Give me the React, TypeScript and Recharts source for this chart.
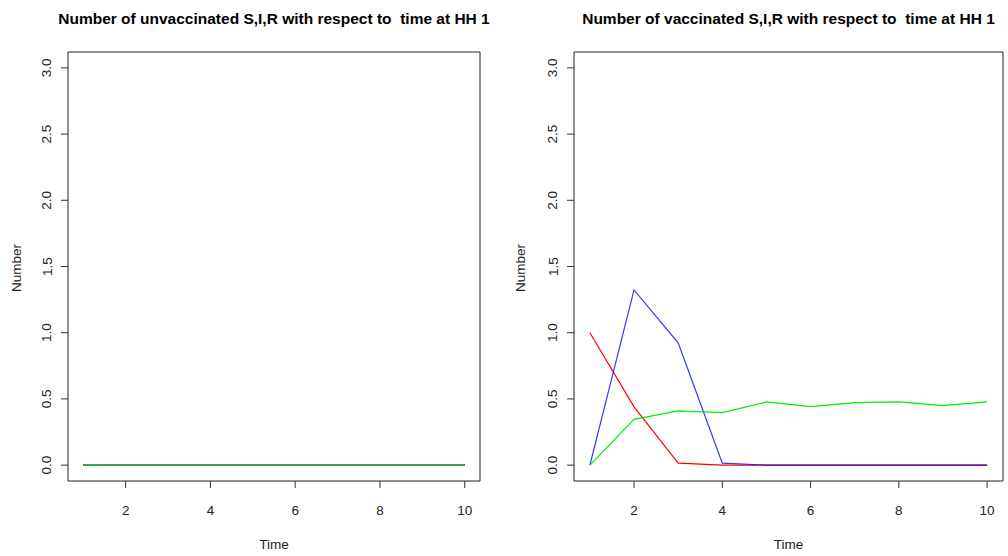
import React from "react";
import { LineChart, Line, XAxis, YAxis, ReferenceArea } from "recharts";

const time = [1, 2, 3, 4, 5, 6, 7, 8, 9, 10];
const unvacS = [0, 0, 0, 0, 0, 0, 0, 0, 0, 0];
const unvacI = [0, 0, 0, 0, 0, 0, 0, 0, 0, 0];
const unvacR = [0, 0, 0, 0, 0, 0, 0, 0, 0, 0];
const vacS = [1.0, 0.44, 0.015, 0, 0, 0, 0, 0, 0, 0];
const vacI = [0, 1.323, 0.924, 0.015, 0, 0, 0, 0, 0, 0];
const vacR = [0, 0.346, 0.41, 0.396, 0.477, 0.442, 0.472, 0.477, 0.449, 0.477];
const xTicks = [2, 4, 6, 8, 10];
const yTicks = [0, 0.5, 1, 1.5, 2, 2.5, 3];
const titles = [
  "Number of unvaccinated S,I,R with respect to  time at HH 1",
  "Number of vaccinated S,I,R with respect to  time at HH 1",
];

const build = (s: number[], i: number[], r: number[]) =>
  time.map((t, k) => ({ t, s: s[k], i: i[k], r: r[k] }));

const unvacData = build(unvacS, unvacI, unvacR);
const vacData = build(vacS, vacI, vacR);

const FONT = "'Liberation Sans', Arial, sans-serif";

const XTick = (props: any) => {
  const { x, payload } = props;
  return (
    <text x={x} y={515} textAnchor="middle" fontSize={13.5} fontFamily={FONT} fill="#222">
      {payload.value}
    </text>
  );
};

const YTick = (props: any) => {
  const { x, y, payload } = props;
  const cx = x - 12;
  return (
    <text
      x={cx}
      y={y}
      textAnchor="middle"
      dominantBaseline="central"
      transform={`rotate(-90, ${cx}, ${y})`}
      fontSize={13.5}
      fontFamily={FONT}
      fill="#222"
    >
      {Number(payload.value).toFixed(1)}
    </text>
  );
};

type PanelProps = {
  data: any[];
  left: number;
  right: number;
  title: string;
  thick?: boolean;
  pos: number;
};

const Panel = ({ data, left, right, title, thick, pos }: PanelProps) => {
  const boxL = left;
  const boxR = 504 - right;
  const cx = pos + (boxL + boxR) / 2;
  return (
    <>
      <div style={{ position: "absolute", left: pos, top: 0 }}>
        <LineChart width={504} height={556} data={data} margin={{ top: 52, right, bottom: 0, left: 0 }}>
          <XAxis
            dataKey="t"
            type="number"
            domain={[0.64, 10.36]}
            ticks={xTicks}
            tickSize={7}
            axisLine={false}
            tickLine={{ stroke: "#333" }}
            tick={<XTick />}
            interval={0}
            height={75}
          />
          <YAxis
            type="number"
            domain={[-0.12, 3.12]}
            ticks={yTicks}
            tickSize={7}
            tickMargin={2}
            axisLine={false}
            tickLine={{ stroke: "#333" }}
            tick={<YTick />}
            interval={0}
            width={left}
          />
          <ReferenceArea
            x1={0.64}
            x2={10.36}
            y1={-0.12}
            y2={3.12}
            fill="none"
            fillOpacity={0}
            stroke="#222"
            strokeWidth={1}
            strokeOpacity={1}
          />
          <Line dataKey="s" stroke="#ff0000" strokeWidth={thick ? 2 : 1.2} dot={false} isAnimationActive={false} />
          <Line dataKey="i" stroke="#0000ff" strokeOpacity={thick ? 1 : 0.8} strokeWidth={thick ? 2 : 1.2} dot={false} isAnimationActive={false} />
          <Line dataKey="r" stroke={thick ? "#3aa55a" : "#00ee00"} strokeWidth={thick ? 2 : 1.2} dot={false} isAnimationActive={false} />
        </LineChart>
      </div>
      <div
        style={{
          position: "absolute",
          left: cx - 300,
          width: 600,
          top: 10,
          textAlign: "center",
          fontFamily: FONT,
          fontWeight: "bold",
          fontSize: 15.5,
          lineHeight: "18px",
          whiteSpace: "pre",
          color: "#000",
        }}
      >
        {title}
      </div>
      <div
        style={{
          position: "absolute",
          left: cx - 50,
          width: 100,
          top: 536,
          textAlign: "center",
          fontFamily: FONT,
          fontSize: 13.5,
          lineHeight: "18px",
          color: "#222",
        }}
      >
        Time
      </div>
      <div
        style={{
          position: "absolute",
          left: pos + 17 - 50,
          top: 268 - 9,
          width: 100,
          height: 18,
          textAlign: "center",
          fontFamily: FONT,
          fontSize: 13.5,
          lineHeight: "18px",
          color: "#222",
          transform: "rotate(-90deg)",
        }}
      >
        Number
      </div>
    </>
  );
};

export default function App() {
  return (
    <div style={{ position: "absolute", left: 0, top: 0, width: 1008, height: 556, background: "#fff" }}>
      <Panel data={unvacData} left={68} right={24} title={titles[0]} thick pos={0} />
      <Panel data={vacData} left={70} right={5} title={titles[1]} pos={504} />
    </div>
  );
}
